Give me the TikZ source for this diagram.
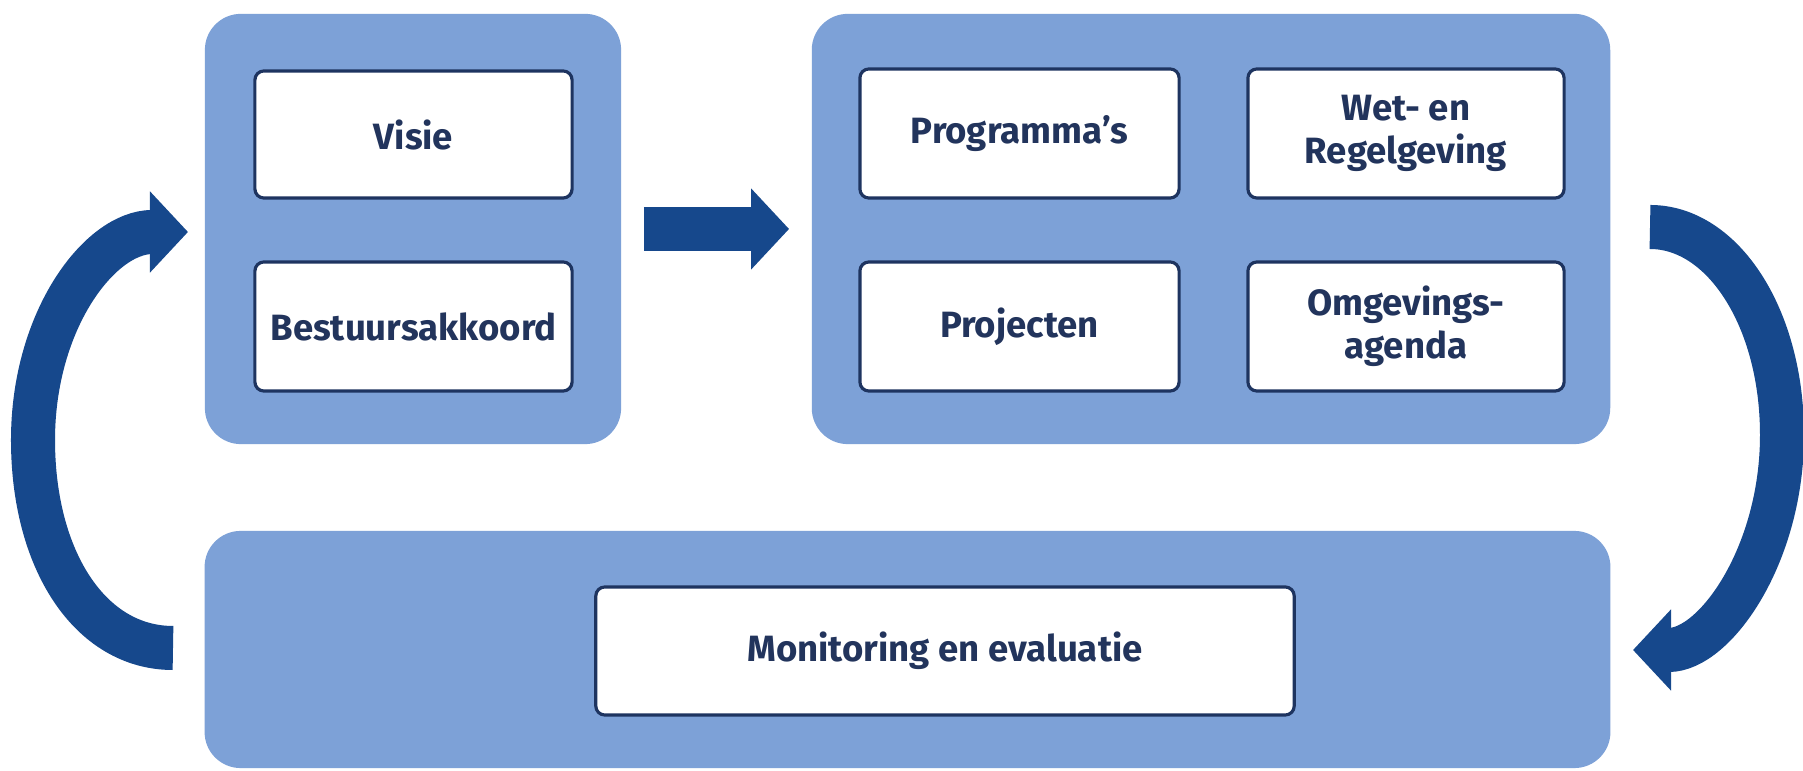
\documentclass[tikz,border=0pt]{standalone}
\usepackage{fontspec}
\setmainfont{Fira Sans}
\usetikzlibrary{arrows.meta}
\definecolor{panelblue}{RGB}{125,161,215}
\definecolor{arrowblue}{RGB}{22,72,140}
\definecolor{boxborder}{RGB}{30,52,96}
\definecolor{textblue}{RGB}{34,52,92}
\tikzset{
  panel/.style={fill=panelblue, draw=none, rounded corners=0.36cm, rectangle},
  item/.style={fill=white, draw=boxborder, line width=0.9pt, rounded corners=0.09cm,
    rectangle, align=center, text=textblue, font=\fontsize{10.4}{12.2}\selectfont\bfseries,
    inner sep=0pt},
  bigarrow/.style={draw=arrowblue, line width=0.44cm,
    -{Triangle[length=0.38cm,width=0.79cm]}},
}
\begin{document}
\begin{tikzpicture}[x=0.01cm,y=-0.01cm]
\useasboundingbox[fill=white] (0,0) rectangle (1803,771);
% panels
\node[panel, minimum width=4.16cm, minimum height=4.30cm] (lp) at (413,229) {};
\node[panel, minimum width=7.98cm, minimum height=4.30cm] (rp) at (1211,229) {};
\node[panel, minimum width=14.05cm, minimum height=2.37cm] (bp) at (907.5,649.5) {};
% items
\node[item, minimum width=3.17cm, minimum height=1.27cm] (visie) at (413.5,134.5) {Visie};
\node[item, minimum width=3.17cm, minimum height=1.29cm] (best) at (413.5,326.5) {Bestuursakkoord};
\node[item, minimum width=3.19cm, minimum height=1.29cm] (prog) at (1019.5,133.5) {Programma's};
\node[item, minimum width=3.16cm, minimum height=1.29cm] (wet) at (1406,133.5) {Wet- en\\Regelgeving};
\node[item, minimum width=3.19cm, minimum height=1.29cm] (proj) at (1019.5,326.5) {Projecten};
\node[item, minimum width=3.16cm, minimum height=1.29cm] (omg) at (1406,326.5) {Omgevings-\\agenda};
\node[item, minimum width=6.98cm, minimum height=1.28cm] (mon) at (945,651) {Monitoring en evaluatie};
% arrow endpoints
\coordinate (ltail) at (173,648);
\coordinate (ltip) at (188,232);
\coordinate (rtail) at (1650,227);
\coordinate (rtip) at (1633,650);
% middle arrow
\draw[bigarrow] ([xshift=0.22cm]lp.east) -- ([xshift=-0.22cm]rp.west);
% left curved arrow
\draw[bigarrow] (ltail) .. controls (90,648) and (33,560) .. (33,440)
  .. controls (33,320) and (100,232) .. (ltip);
% right curved arrow
\draw[bigarrow] (rtail) .. controls (1723,227) and (1782,318) .. (1782,435)
  .. controls (1782,555) and (1715,650) .. (rtip);
\end{tikzpicture}
\end{document}
